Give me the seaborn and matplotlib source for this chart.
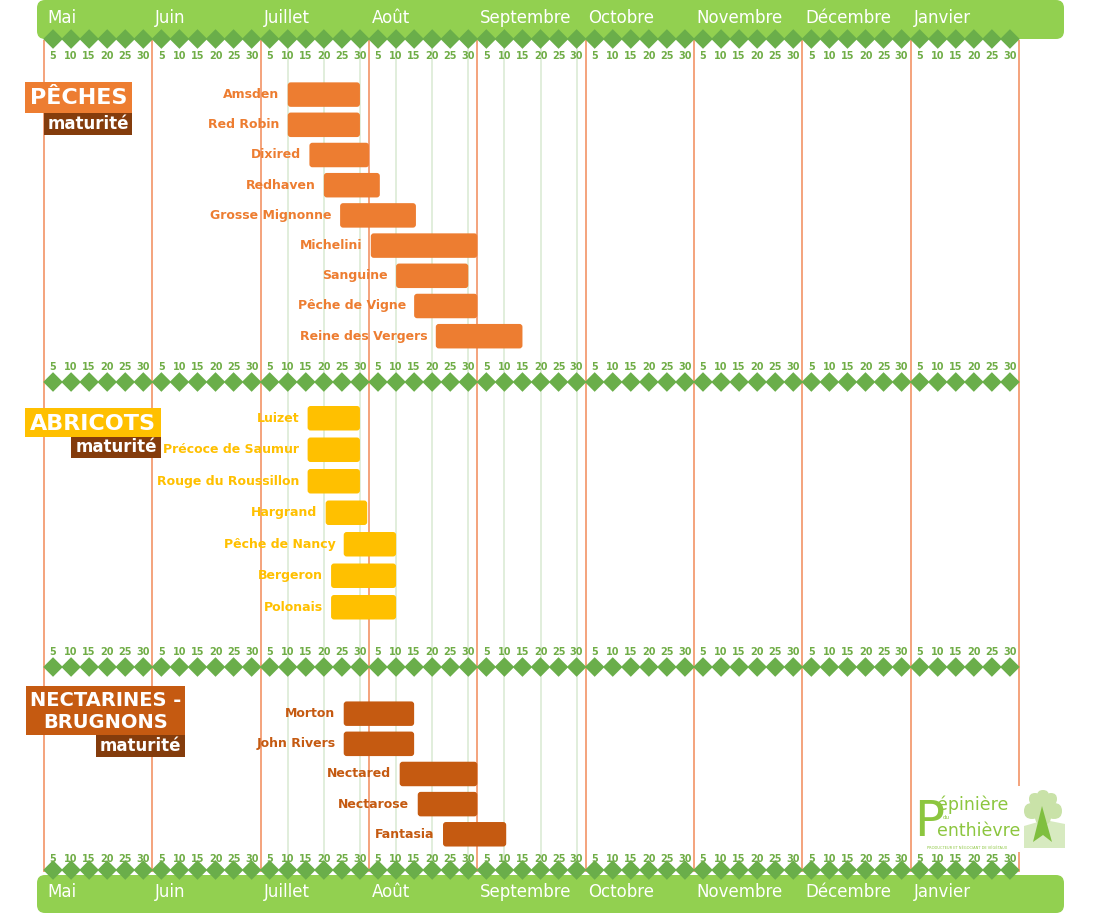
import pandas as pd
import seaborn as sns
import matplotlib.pyplot as plt
from matplotlib.patches import FancyBboxPatch, Rectangle, Polygon


mois = ['Mai', 'Juin', 'Juillet', 'Août', 'Septembre', 'Octobre', 'Novembre', 'Décembre', 'Janvier']
jours = [5, 10, 15, 20, 25, 30]

# début / fin de maturité en jours depuis le 1er mai (mois de 30 jours)
peches = ['Amsden', 'Red Robin', 'Dixired', 'Redhaven', 'Grosse Mignonne', 'Michelini',
          'Sanguine', 'Pêche de Vigne', 'Reine des Vergers']
peches_debut = [70, 70, 76, 80, 84.5, 93, 100, 105, 111]
peches_fin = [90, 90, 92.5, 95.5, 105.5, 122.5, 120, 122.5, 135]

abricots = ['Luizet', 'Précoce de Saumur', 'Rouge du Roussillon', 'Hargrand', 'Pêche de Nancy',
            'Bergeron', 'Polonais']
abricots_debut = [75.5, 75.5, 75.5, 80.5, 85.5, 82, 82]
abricots_fin = [90, 90, 90, 92, 100, 100, 100]

nectarines = ['Morton', 'John Rivers', 'Nectared', 'Nectarose', 'Fantasia']
nectarines_debut = [85.5, 85.5, 101, 106, 113]
nectarines_fin = [105, 105, 122.5, 122.5, 130.5]

ORANGE = '#ed7d31'
JAUNE = '#ffc000'
ROUILLE = '#c55a11'
BRUN = '#843c0c'
VERT_BANDE = '#92d050'
VERT_LOSANGE = '#6aae4a'
VERT_TEXTE = '#70ad47'
VERT_GRILLE = '#dcebd5'
SAUMON = '#f4a37c'

W, H = 1101, 915
PX_JOUR = 108.33 / 30


def xd(px):
    # pixel -> jour
    return (px - 44) / PX_JOUR + 2.5


fig = plt.figure(figsize=(W / 100, H / 100), dpi=100)
bg = fig.add_axes([0, 0, 1, 1])
bg.set_xlim(xd(0), xd(W))
bg.set_ylim(H, 0)
bg.axis('off')

# limites de mois + grille légère
limites = [30 * m + 2.5 for m in range(len(mois) + 1)]
grille = [30 * m + d for m in (2, 3, 4) for d in (10, 20, 30)]
bg.vlines(grille, 40, 872, color=VERT_GRILLE, lw=1.2, zorder=1)
bg.vlines(limites, 40, 872, color=SAUMON, lw=1.4, zorder=2)

# bandes vertes haut / bas
for y0, y1, ytxt in [(0, 39, 18), (875, 913, 892)]:
    bg.add_patch(FancyBboxPatch((xd(37), y0), xd(1064) - xd(37), y1 - y0,
                                boxstyle=f"round,pad=0,rounding_size={8 / PX_JOUR}",
                                mutation_aspect=PX_JOUR, fc=VERT_BANDE, ec='none', zorder=3))
    for m, nom in enumerate(mois):
        bg.text(30 * m + 3.3, ytxt, nom, color='white', fontsize=12, ha='left', va='center', zorder=4)

# rangées de losanges + jours
pos_jours = [30 * m + d for m in range(len(mois)) for d in jours]
lbl_jours = [d for m in range(len(mois)) for d in jours]
for y_los, y_lbl in [(39, 56), (382, 367), (667, 652), (870, 859)]:
    sns.scatterplot(x=pos_jours, y=[y_los] * len(pos_jours), marker='D', s=100, color=VERT_LOSANGE,
                    edgecolor='none', linewidth=0, legend=False, ax=bg, zorder=5)
    for x, d in zip(pos_jours, lbl_jours):
        bg.text(x, y_lbl, str(d), color=VERT_TEXTE, fontsize=7, fontweight='bold',
                ha='center', va='center', zorder=5)
bg.set_xlim(xd(0), xd(W))
bg.set_ylim(H, 0)


def titre(x0, x1, y0, y1, y2, couleur, texte, xm0, fs):
    bg.add_patch(Rectangle((xd(x0), y0), xd(x1) - xd(x0), y1 - y0, fc=couleur, ec='none', zorder=6))
    bg.text((xd(x0) + xd(x1)) / 2, (y0 + y1) / 2 + 1, texte, color='white', fontsize=fs,
            fontweight='bold', ha='center', va='center', linespacing=1.15, zorder=7)
    bg.add_patch(Rectangle((xd(xm0), y1), xd(x1) - xd(xm0), y2 - y1, fc=BRUN, ec='none', zorder=6))
    bg.text((xd(xm0) + xd(x1)) / 2, (y1 + y2) / 2, 'maturité', color='white', fontsize=12,
            fontweight='bold', ha='center', va='center', zorder=7)


titre(25, 132, 82, 113, 135, ORANGE, 'PÊCHES', 44, 16)
titre(25, 161, 408, 437, 458, JAUNE, 'ABRICOTS', 71, 16)
titre(26, 185, 686, 735, 757, ROUILLE, 'NECTARINES -\nBRUGNONS', 96, 14)


def groupe(noms, debut, fin, couleur, haut, pas):
    n = len(noms)
    ax = fig.add_axes([0, 1 - (haut + n * pas) / H, 1, n * pas / H])
    df = pd.DataFrame({'variete': noms, 'debut': debut, 'fin': fin})
    sns.barplot(data=df, x='fin', y='variete', color=couleur, orient='h', width=24.5 / pas,
                saturation=1, errorbar=None, ax=ax)
    asp = PX_JOUR / pas
    for p, s, e in zip(list(ax.patches), df['debut'], df['fin']):
        y, h = p.get_y(), p.get_height()
        p.remove()
        ax.add_patch(FancyBboxPatch((s, y), e - s, h, boxstyle=f"round,pad=0,rounding_size={3 / PX_JOUR}",
                                    mutation_aspect=asp, fc=couleur, ec='none'))
    for i, (nom, s) in enumerate(zip(df['variete'], df['debut'])):
        ax.annotate(nom, xy=(s, i), xytext=(-6, 0), textcoords='offset points', ha='right',
                    va='center', fontsize=9, fontweight='bold', color=couleur)
    ax.set_xlim(xd(0), xd(W))
    ax.set_ylim(n - 0.5, -0.5)
    ax.patch.set_alpha(0)
    ax.axis('off')


groupe(peches, peches_debut, peches_fin, ORANGE, 79.5, 30.2)
groupe(abricots, abricots_debut, abricots_fin, JAUNE, 402.5, 31.5)
groupe(nectarines, nectarines_debut, nectarines_fin, ROUILLE, 698.6, 30.15)

# logo
VL = '#8cc63f'
bg.add_patch(Rectangle((xd(913), 786), xd(1066) - xd(913), 66, fc='white', ec='none', zorder=8))
bg.text(xd(914), 836, 'P', color=VL, fontsize=36, ha='left', va='baseline', zorder=9)
bg.text(xd(937), 810, 'épinière', color=VL, fontsize=12.5, ha='left', va='baseline', zorder=9)
bg.text(xd(946), 819, 'du', color=VL, fontsize=4, ha='center', va='baseline', zorder=9)
bg.text(xd(937), 836, 'enthièvre', color=VL, fontsize=12.5, ha='left', va='baseline', zorder=9)
bg.text(xd(967), 849, 'PRODUCTEUR ET NÉGOCIANT DE VÉGÉTAUX', color=VL, fontsize=2.6,
        ha='center', va='baseline', zorder=9)
bg.add_patch(Polygon([(xd(1024), 826), (xd(1045), 820), (xd(1065), 824), (xd(1065), 848), (xd(1024), 848)],
                     closed=True, fc='#d7eac0', ec='none', zorder=9))
for cx, cy, r in [(1043, 804, 10), (1032, 811, 8), (1054, 811, 8), (1043, 817, 8),
                  (1035, 799, 6), (1051, 799, 6), (1043, 796, 6)]:
    bg.add_patch(FancyBboxPatch((xd(cx - r), cy - r), 2 * r / PX_JOUR, 2 * r,
                                boxstyle=f"round,pad=0,rounding_size={r / PX_JOUR}",
                                mutation_aspect=PX_JOUR, fc='#c9e2a8', ec='none', zorder=9))
bg.add_patch(Polygon([(xd(1042), 806), (xd(1033), 842), (xd(1043), 835), (xd(1052), 842)],
                     closed=True, fc='#7fbf3f', ec='none', zorder=10))

plt.savefig('out.png', dpi=100)
